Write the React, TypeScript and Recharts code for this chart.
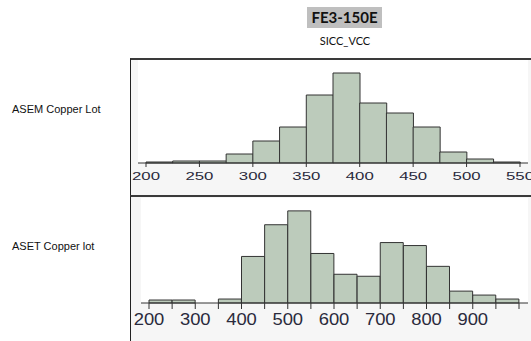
import React from 'react';
import { BarChart, Bar, XAxis, YAxis, CartesianGrid } from 'recharts';

// ASEM lot: 25-wide bins starting at 200
const asemBinStarts = [200, 225, 250, 275, 300, 325, 350, 375, 400, 425, 450, 475, 500, 525];
const asemCounts = [1, 2, 2, 9, 22, 36, 68, 90, 60, 50, 36, 11, 4, 1];
const asemTicks = [200, 250, 300, 350, 400, 450, 500, 550];

// ASET lot: 50-wide bins starting at 200
const asetBinStarts = [200, 250, 300, 350, 400, 450, 500, 550, 600, 650, 700, 750, 800, 850, 900, 950];
const asetCounts = [3, 3, 0, 4, 47, 79, 93, 50, 29, 27, 61, 58, 37, 12, 8, 4];
const asetTicks = [200, 250, 300, 350, 400, 450, 500, 550, 600, 650, 700, 750, 800, 850, 900, 950, 1000];
const asetLabels = [200, 300, 400, 500, 600, 700, 800, 900];

const asemData = asemBinStarts.map((s, i) => ({ mid: s + 12.5, count: asemCounts[i] }));
const asetData = asetBinStarts.map((s, i) => ({ mid: s + 25, count: asetCounts[i] }));

const BAR_FILL = '#bccbbb';
const INK = '#2a2a3c';

const StretchTick = ({ x, y, payload, size, sx, dy, show }: any) => {
  if (show && !show.includes(payload.value)) return null;
  return (
    <text
      transform={`translate(${x},${y + dy}) scale(${sx},1)`}
      textAnchor="middle"
      fontFamily="Liberation Sans, Arial, sans-serif"
      fontSize={size}
      fill={INK}
    >
      {payload.value}
    </text>
  );
};

const panelStyle = (top: number, height: number): React.CSSProperties => ({
  position: 'absolute',
  left: 130,
  top,
  width: 401,
  height,
  background: '#f6f6f6',
  borderTop: '2px solid #3a3a3a',
  borderLeft: '1px solid #222',
  boxSizing: 'border-box',
});

const labelStyle = (top: number): React.CSSProperties => ({
  position: 'absolute',
  left: 12,
  top,
  fontFamily: 'Liberation Sans, Arial, sans-serif',
  fontSize: 11,
  color: '#111',
  whiteSpace: 'nowrap',
});

export default function App() {
  return (
    <div style={{ position: 'absolute', left: 0, top: 0, width: 531, height: 341, background: '#fff', overflow: 'hidden' }}>
      {/* title */}
      <div
        style={{
          position: 'absolute', left: 307, top: 7, width: 75, height: 21, background: '#bfbfbf',
          fontFamily: 'Lato, sans-serif', fontWeight: 700, fontSize: 15, lineHeight: '21px', textAlign: 'center', color: '#111',
        }}
      >
        FE3-150E
      </div>
      <div
        style={{
          position: 'absolute', left: 295, top: 34, width: 100, textAlign: 'center',
          fontFamily: 'Lato, sans-serif', fontSize: 11, color: '#111',
        }}
      >
        SICC_VCC
      </div>

      <div style={labelStyle(103)}>ASEM Copper Lot</div>
      <div style={labelStyle(240)}>ASET Copper lot</div>

      {/* top histogram */}
      <div style={panelStyle(58, 138)}>
        <BarChart
          width={400}
          height={135}
          data={asemData}
          margin={{ top: 0, right: 3, bottom: 2, left: 7 }}
          barCategoryGap={0}
          barGap={0}
        >
          <CartesianGrid horizontal={false} vertical={false} fill="#fff" />
          <XAxis
            dataKey="mid"
            type="number"
            domain={[200, 550]}
            ticks={asemTicks}
            interval={0}
            padding={{ left: 8, right: 8 }}
            height={30}
            tickSize={4}
            tickMargin={0}
            axisLine={{ stroke: '#333' }}
            tickLine={{ stroke: '#333' }}
            tick={<StretchTick size={10.5} sx={1.6} dy={13} />}
          />
          <YAxis domain={[0, 103]} width={0} tick={false} axisLine={{ stroke: '#777', strokeWidth: 2 }} tickLine={false} />
          <YAxis yAxisId="r" orientation="right" domain={[0, 103]} width={0} tick={false} axisLine={{ stroke: '#333', strokeWidth: 1.5 }} tickLine={false} />
          <Bar dataKey="count" fill={BAR_FILL} stroke="#333" strokeWidth={1} isAnimationActive={false} />
        </BarChart>
      </div>

      {/* bottom histogram */}
      <div style={panelStyle(195, 146)}>
        <BarChart
          width={400}
          height={144}
          data={asetData}
          margin={{ top: 1, right: 3, bottom: 2, left: 10 }}
          barCategoryGap={0}
          barGap={0}
        >
          <CartesianGrid horizontal={false} vertical={false} fill="#fff" />
          <XAxis
            dataKey="mid"
            type="number"
            domain={[200, 1000]}
            ticks={asetTicks}
            interval={0}
            padding={{ left: 8, right: 9 }}
            height={36}
            tickSize={6}
            tickMargin={0}
            axisLine={{ stroke: '#333' }}
            tickLine={{ stroke: '#333' }}
            tick={<StretchTick size={16} sx={1.15} dy={16} show={asetLabels} />}
          />
          <YAxis domain={[0, 106]} width={0} tick={false} axisLine={{ stroke: '#777', strokeWidth: 2 }} tickLine={false} />
          <YAxis yAxisId="r" orientation="right" domain={[0, 106]} width={0} tick={false} axisLine={{ stroke: '#333', strokeWidth: 1.5 }} tickLine={false} />
          <Bar dataKey="count" fill={BAR_FILL} stroke="#333" strokeWidth={1} isAnimationActive={false} />
        </BarChart>
      </div>
    </div>
  );
}
